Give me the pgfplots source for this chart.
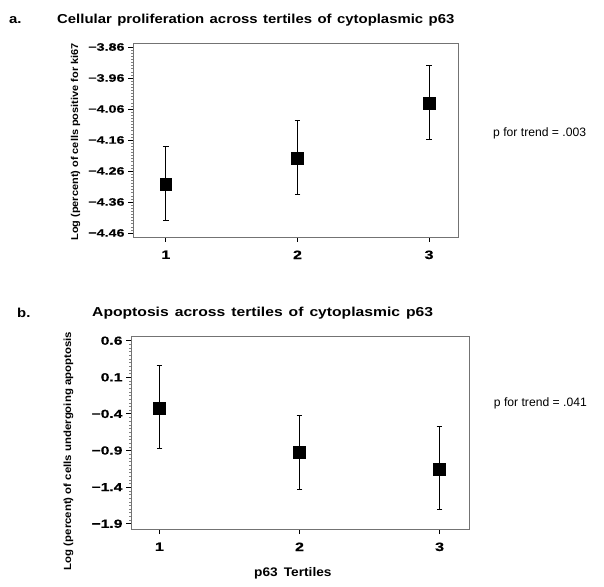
\documentclass[border=0pt]{standalone}
\usepackage{fontspec}
\setmainfont{Liberation Sans}
\newfontfamily\tickfont{Liberation Sans}[FakeStretch=1.33, BoldFeatures={FakeBold=0.6}]
\newfontfamily\titlefont{Liberation Sans}[FakeStretch=1.15]
\newfontfamily\titlefontb{Liberation Sans}[FakeStretch=1.21]
\newfontfamily\labfont{Liberation Sans}[FakeStretch=1.1]
\newcommand\widesp{\spaceskip=5.5bp\relax}
\usepackage{pgfplots}
\pgfplotsset{compat=1.18}
\usepackage{pgfplotstable}

\pgfplotstableread{
x y ep em
1 -4.302 0.122 0.118
2 -4.218 0.120 0.117
3 -4.041 0.123 0.116
}\dataA
\pgfplotstableread{
x y ep em
1 -0.318 0.577 0.550
2 -0.927 0.504 0.505
3 -1.150 0.573 0.550
}\dataB

\pgfplotsset{
  panel/.style={
    scale only axis,
    axis line style={draw=gray!90!black, line width=0.8bp},
    xtick={1,2,3},
    xtick pos=bottom, ytick pos=left,
    tick align=outside,
    major tick length=5bp,
    minor tick length=1.6bp,
    minor y tick num=9,
    every tick/.style={black, line width=0.9bp},
    minor tick style={gray, line width=0.5bp},
    xtick style={black, line width=0.9bp},
    xticklabel style={yshift=-5bp},
  },
  errplot/.style={
    black, only marks, mark=square*, mark size=#1,
    mark options={draw=black, fill=black},
    error bars/.cd, y dir=both, y explicit,
    error mark=-,
    error bar style={black, line width=0.9bp},
    error mark options={rotate=90, black, line width=0.9bp, mark size=2.9bp},
  },
}

\begin{document}
\begin{tikzpicture}
\path[use as bounding box] (0bp,0bp) rectangle (604bp,587bp);

% ---------- panel a ----------
\begin{axis}[panel,
  at={(133bp,350bp)}, anchor=south west,
  width=325bp, height=194bp,
  xmin=0.75, xmax=3.22,
  ymin=-4.473, ymax=-3.847,
  ytick={-3.86,-3.96,-4.06,-4.16,-4.26,-4.36,-4.46},
  yticklabels={−3.86,−3.96,−4.06,−4.16,−4.26,−4.36,−4.46},
  xticklabels={1,2,3},
  yticklabel style={font=\tickfont\bfseries\fontsize{10.8}{12}\selectfont},
  xticklabel style={font=\tickfont\bfseries\fontsize{12.2}{13}\selectfont},
  ylabel={Log (percent) of cells positive for ki67},
  ylabel style={at={(axis description cs:-0.177,0.49)}, anchor=center,
    font=\labfont\bfseries\fontsize{10}{12}\selectfont},
]
\addplot[errplot=5.8bp] table[x=x, y=y, y error plus=ep, y error minus=em] {\dataA};
\end{axis}

% ---------- panel b ----------
\begin{axis}[panel,
  at={(131bp,58bp)}, anchor=south west,
  width=338bp, height=193bp,
  xmin=0.797, xmax=3.21,
  ymin=-1.972, ymax=0.664,
  ytick={0.6,0.1,-0.4,-0.9,-1.4,-1.9},
  yticklabels={0.6,0.1,−0.4,−0.9,−1.4,−1.9},
  xticklabels={1,2,3},
  yticklabel style={font=\tickfont\bfseries\fontsize{11.8}{13}\selectfont},
  xticklabel style={font=\tickfont\bfseries\fontsize{12.2}{13}\selectfont},
  ylabel={Log (percent) of cells undergoing apoptosis},
  ylabel style={at={(axis description cs:-0.185,0.404)}, anchor=center,
    font=\labfont\bfseries\fontsize{10.4}{12}\selectfont},
  xlabel={p63\hspace{6bp}Tertiles},
  xlabel style={at={(axis description cs:0.479,0)}, anchor=center, yshift=-44bp,
    font=\labfont\bfseries\fontsize{12.5}{14}\selectfont},
]
\addplot[errplot=6bp] table[x=x, y=y, y error plus=ep, y error minus=em] {\dataB};
\end{axis}

% ---------- texts ----------
\node[anchor=west, inner sep=0pt, font=\titlefont\bfseries\fontsize{13}{15}\selectfont] at (9bp,567bp) {a.};
\node[anchor=west, inner sep=0pt, font=\titlefont\bfseries\fontsize{13}{15}\selectfont] at (57bp,567bp) {\widesp Cellular proliferation across tertiles of cytoplasmic p63};
\node[anchor=west, inner sep=0pt, font=\fontsize{12.2}{14}\selectfont] at (493bp,454bp) {p for trend = .003};

\node[anchor=west, inner sep=0pt, font=\titlefont\bfseries\fontsize{13}{15}\selectfont] at (17bp,274bp) {b.};
\node[anchor=west, inner sep=0pt, font=\titlefontb\bfseries\fontsize{13}{15}\selectfont] at (92bp,274bp) {\spaceskip=6bp\relax Apoptosis across tertiles of cytoplasmic p63};
\node[anchor=east, inner sep=0pt, font=\fontsize{12.2}{14}\selectfont] at (587bp,184bp) {p for trend = .041};
\end{tikzpicture}
\end{document}
